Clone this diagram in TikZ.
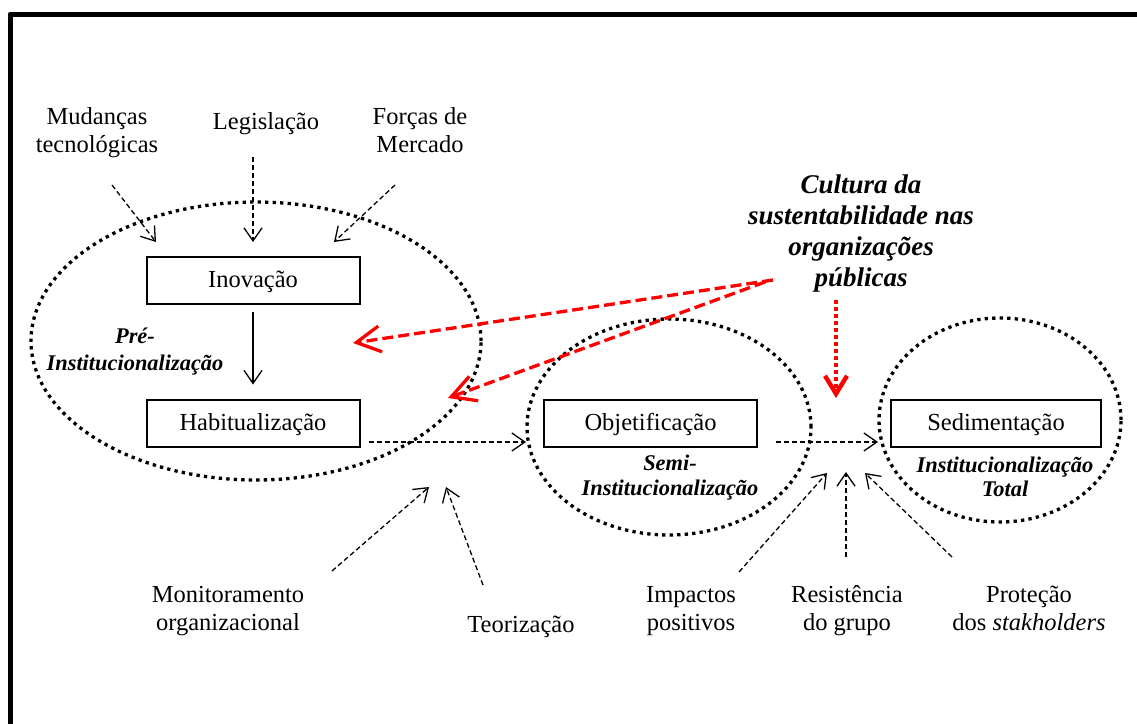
\documentclass[tikz,border=0pt]{standalone}
\usepackage{fontspec}
\setmainfont{Liberation Serif}
\usetikzlibrary{arrows.meta}
\newcommand\mlines[1]{\vtop{\halign{\hfil##\hfil\cr#1\crcr}}}
\tikzset{
  lbl/.style={font=\fontsize{24.5}{28.7}\selectfont, inner sep=0pt, anchor=base},
  stage/.style={draw, line width=2pt, minimum width=213pt, minimum height=47pt, inner sep=0pt,
    text height=19pt, text depth=5pt, font=\fontsize{24.5}{28.7}\selectfont},
  phase/.style={font=\fontsize{22.4}{#1}\bfseries\itshape\selectfont, inner sep=0pt, anchor=base},
  culture/.style={font=\fontsize{27}{31}\bfseries\itshape\selectfont, inner sep=0pt, anchor=base},
  inarrow/.style={line width=1.3pt, dash pattern=on 5pt off 3pt, -{Straight Barb[length=13pt,width=18pt]}},
  flow/.style={line width=1.3pt, -{Straight Barb[length=13pt,width=18pt]}},
  redarrow/.style={red, line width=3.3pt, dash pattern=on 11pt off 5pt, -{Straight Barb[length=24pt,width=26pt]}},
  reddot/.style={red, line width=4.4pt, dash pattern=on 4.3pt off 2.7pt, -{Straight Barb[length=18pt,width=22pt]}},
  phaseell/.style={line width=3.3pt, dash pattern=on 3.3pt off 4.2pt},
  frame/.style={line width=5pt, line join=round}
}
\begin{document}
\begin{tikzpicture}[x=1pt, y=-1pt]
\useasboundingbox (0,0) rectangle (1137,723);
\draw[frame] (10,760) -- (10,14) -- (1160,14);

% phase ellipses
\draw[phaseell] (256,341) ellipse [x radius=225pt, y radius=139pt];
\draw[phaseell] (669,427) ellipse [x radius=142pt, y radius=108pt];
\draw[phaseell] (1000,420) ellipse [x radius=121pt, y radius=102pt];

% stages
\node[stage] (ino) at (253,280.5) {Inovação};
\node[stage] (hab) at (253,423) {Habitualização};
\node[stage] (obj) at (650.5,423) {Objetificação};
\node[stage, minimum width=210pt] (sed) at (996,423) {Sedimentação};

% external forces
\node[lbl] (mud) at (97,124) {\mlines{Mudanças\cr tecnológicas}};
\node[lbl] (leg) at (266,129) {Legislação};
\node[lbl] (for) at (420,124) {\mlines{Forças de\cr Mercado}};
\node[lbl] (mon) at (228,602) {\mlines{Monitoramento\cr organizacional}};
\node[lbl] (teo) at (521,632) {Teorização};
\node[lbl] (imp) at (691,602) {\mlines{Impactos\cr positivos}};
\node[lbl] (res) at (847,602) {\mlines{Resistência\cr do grupo}};
\node[lbl] (pro) at (1029,602) {\mlines{Proteção\cr dos \textit{stakholders}}};

% phase labels
\node[phase=27] (pre) at (135,343) {\mlines{Pré-\cr Institucionalização}};
\node[phase=25] (semi) at (670,470) {\mlines{Semi-\cr Institucionalização}};
\node[phase=24.5] (tot) at (1005,472) {\mlines{Institucionalização\cr Total}};

% culture
\node[culture] (cul) at (861,193) {\mlines{Cultura da\cr sustentabilidade nas\cr organizações\cr públicas}};

% arrow end points
\coordinate (mudS) at (112,185); \coordinate (mudE) at (156,242);
\coordinate (legS) at (253,157); \coordinate (legE) at (253,242);
\coordinate (forS) at (395,185); \coordinate (forE) at (334,242);
\coordinate (monS) at (332,571); \coordinate (monE) at (429,487);
\coordinate (teoS) at (483,585); \coordinate (teoE) at (446,487);
\coordinate (impS) at (739,572); \coordinate (impE) at (827,473);
\coordinate (resS) at (846,557); \coordinate (resE) at (846,472);
\coordinate (proS) at (952,557); \coordinate (proE) at (865,473);
\coordinate (redA) at (773,280); \coordinate (redAE) at (353,343);
\coordinate (redB) at (765,282); \coordinate (redBE) at (448,398);
\coordinate (redC) at (836,300); \coordinate (redCE) at (836,398);

\draw[inarrow] (mudS) -- (mudE);
\draw[inarrow] (legS) -- (legE);
\draw[inarrow] (forS) -- (forE);
\draw[inarrow] (monS) -- (monE);
\draw[inarrow] (teoS) -- (teoE);
\draw[inarrow] (impS) -- (impE);
\draw[inarrow] (resS) -- (resE);
\draw[inarrow] (proS) -- (proE);

\draw[flow] ([yshift=-7pt]ino.south) -- ([yshift=14pt]hab.north);
\draw[inarrow] ([xshift=8pt,yshift=-19pt]hab.east) -- ([xshift=-17pt,yshift=-19pt]obj.west);
\draw[inarrow] ([xshift=18pt,yshift=-19pt]obj.east) -- ([xshift=-12pt,yshift=-19pt]sed.west);

\draw[redarrow] (redA) -- (redAE);
\draw[redarrow] (redB) -- (redBE);
\draw[reddot] (redC) -- (redCE);
\end{tikzpicture}
\end{document}
